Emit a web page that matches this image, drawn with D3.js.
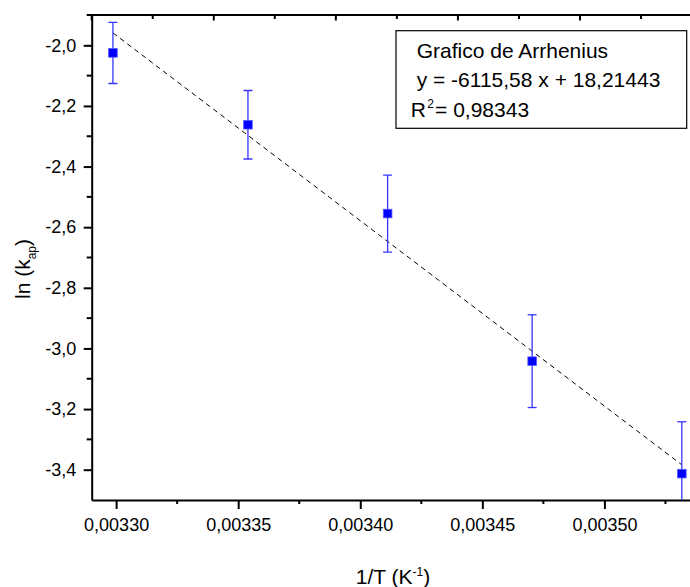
<!DOCTYPE html>
<html>
<head>
<meta charset="utf-8">
<script src="https://cdn.jsdelivr.net/npm/d3@7"></script>
<style>
	body { margin: 0; background: #fff; }
	svg { display: block; font-family: Arial, 'Liberation Sans', sans-serif; }
	.axis path, .axis line { stroke: #000; stroke-width: 2; }
	.axis text { font-size: 18px; fill: #000; font-family: Arial, 'Liberation Sans', sans-serif; }
</style>
</head>
<body>
<svg id="chart" width="690" height="587"></svg>
<script>
// DATA //

const invT = [ 0.0032987, 0.0033540, 0.0034112, 0.0034704, 0.0035317 ];
const lnK = [ -2.025, -2.262, -2.555, -3.042, -3.413 ];
const lnKErr = [ 0.101, 0.113, 0.127, 0.153, 0.171 ];
const fitSlope = -6115.58;
const fitIntercept = 18.21443;
const fitR2 = 0.98343;
const legendTitle = 'Grafico de Arrhenius';
const xTicks = [ 0.00330, 0.00335, 0.00340, 0.00345, 0.00350 ];
const yTicks = [ -3.4, -3.2, -3.0, -2.8, -2.6, -2.4, -2.2, -2.0 ];


// SETUP //

const locale = d3.formatLocale({
	decimal: ',', thousands: '.', grouping: [ 3 ], currency: [ '', '' ], minus: '-'
});
const fmtX = locale.format( '.5f' );
const fmtY = locale.format( '.1f' );

const mLeft = 91.7, mTop = 15, mBottom = 500;

const svg = d3.select( '#chart' );

const x = d3.scaleLinear()
	.domain([ 0.00329, 0.00355 ])
	.range([ mLeft, 726.5 ]);

const y = d3.scaleLinear()
	.domain([ -3.5, -1.9 ])
	.range([ mBottom, mTop ]);

// minor ticks sit halfway between the majors
const xMinor = xTicks.map( v => v + 0.000025 );
const yMinor = yTicks.map( v => v + 0.1 );
const topTicks = d3.range( 0, 11 ).map( i => 0.00329 + i * 0.000025 );


// AXES //

const gx = svg.append( 'g' )
	.attr( 'class', 'axis' )
	.attr( 'transform', 'translate(0,' + mBottom + ')' )
	.call( d3.axisBottom( x )
		.tickValues( xTicks )
		.tickFormat( fmtX )
		.tickSize( 9 )
		.tickSizeOuter( 0 )
		.tickPadding( 9 ) );

gx.selectAll( 'line.minor' )
	.data( xMinor )
	.enter().append( 'line' )
	.attr( 'class', 'minor' )
	.attr( 'x1', d => x( d ) )
	.attr( 'x2', d => x( d ) )
	.attr( 'y2', 4 );

const gy = svg.append( 'g' )
	.attr( 'class', 'axis' )
	.attr( 'transform', 'translate(' + mLeft + ',0)' )
	.call( d3.axisLeft( y )
		.tickValues( yTicks )
		.tickFormat( fmtY )
		.tickSize( 8 )
		.tickSizeOuter( 0 )
		.tickPadding( 7.5 ) );

gy.selectAll( 'line.minor' )
	.data( yMinor )
	.enter().append( 'line' )
	.attr( 'class', 'minor' )
	.attr( 'y1', d => y( d ) )
	.attr( 'y2', d => y( d ) )
	.attr( 'x2', -5 );

// top axis: ticks only, pointing inward
const gt = svg.append( 'g' )
	.attr( 'class', 'axis' );

gt.append( 'line' )
	.attr( 'x1', mLeft - 1 )
	.attr( 'x2', x.range()[ 1 ] )
	.attr( 'y1', mTop )
	.attr( 'y2', mTop );

gt.selectAll( 'line.tick' )
	.data( topTicks )
	.enter().append( 'line' )
	.attr( 'class', 'tick' )
	.attr( 'x1', d => x( d ) )
	.attr( 'x2', d => x( d ) )
	.attr( 'y1', mTop )
	.attr( 'y2', ( d, i ) => mTop + ( i % 2 ? 4 : 5.5 ) );


// PLOT //

svg.append( 'clipPath' )
	.attr( 'id', 'plot-clip' )
	.append( 'rect' )
	.attr( 'x', mLeft )
	.attr( 'y', mTop )
	.attr( 'width', x.range()[ 1 ] - mLeft )
	.attr( 'height', mBottom - mTop );

const plot = svg.append( 'g' )
	.attr( 'clip-path', 'url(#plot-clip)' );

// fitted line between the first and last point
const xFit = d3.extent( invT );
plot.append( 'path' )
	.datum( xFit )
	.attr( 'd', d3.line()
		.x( d => x( d ) )
		.y( d => y( fitSlope * d + fitIntercept ) ) )
	.attr( 'fill', 'none' )
	.attr( 'stroke', '#000' )
	.attr( 'stroke-width', 1 )
	.attr( 'stroke-dasharray', '5,4' );

const pts = invT.map( ( v, i ) => ({ x: v, y: lnK[ i ], e: lnKErr[ i ] }) );

const bars = plot.selectAll( 'g.err' )
	.data( pts )
	.enter().append( 'g' )
	.attr( 'class', 'err' )
	.attr( 'stroke', '#3535ff' )
	.attr( 'stroke-width', 1.3 );

bars.append( 'line' )
	.attr( 'x1', d => x( d.x ) )
	.attr( 'x2', d => x( d.x ) )
	.attr( 'y1', d => y( d.y + d.e ) )
	.attr( 'y2', d => y( d.y - d.e ) );

bars.selectAll( 'line.cap' )
	.data( d => [ [ d.x, d.y + d.e ], [ d.x, d.y - d.e ] ] )
	.enter().append( 'line' )
	.attr( 'class', 'cap' )
	.attr( 'x1', d => x( d[ 0 ] ) - 4.5 )
	.attr( 'x2', d => x( d[ 0 ] ) + 4.5 )
	.attr( 'y1', d => y( d[ 1 ] ) )
	.attr( 'y2', d => y( d[ 1 ] ) );

plot.selectAll( 'rect.pt' )
	.data( pts )
	.enter().append( 'rect' )
	.attr( 'class', 'pt' )
	.attr( 'x', d => x( d.x ) - 4.3 )
	.attr( 'y', d => y( d.y ) - 4.3 )
	.attr( 'width', 8.6 )
	.attr( 'height', 8.6 )
	.attr( 'fill', '#0000ff' )
	.attr( 'stroke', '#5555ff' )
	.attr( 'stroke-width', 0.8 );


// LEGEND //

const legend = svg.append( 'g' )
	.attr( 'font-size', 21 )
	.style( 'white-space', 'pre' );

legend.append( 'rect' )
	.attr( 'x', 396 )
	.attr( 'y', 30.7 )
	.attr( 'width', 290.7 )
	.attr( 'height', 97.6 )
	.attr( 'fill', '#fff' )
	.attr( 'stroke', '#000' )
	.attr( 'stroke-width', 1.2 );

legend.append( 'text' )
	.attr( 'x', 416.7 )
	.attr( 'y', 58.3 )
	.text( legendTitle );

legend.append( 'text' )
	.attr( 'x', 416.7 )
	.attr( 'y', 87.3 )
	.text( ' y = ' + locale.format( '.2f' )( fitSlope ) + ' x + ' + locale.format( '.5f' )( fitIntercept ) );

const r2 = legend.append( 'text' )
	.attr( 'x', 410.7 )
	.attr( 'y', 116.7 );
r2.append( 'tspan' ).text( 'R' );
r2.append( 'tspan' )
	.attr( 'dx', 1.5 )
	.attr( 'dy', -9 )
	.attr( 'font-size', 12 )
	.text( '2' );
r2.append( 'tspan' )
	.attr( 'dx', 1 )
	.attr( 'dy', 9 )
	.text( '= ' + locale.format( '.5f' )( fitR2 ) );


// AXIS TITLES //

const yTitle = svg.append( 'text' )
	.attr( 'transform', 'translate(29.5,269) rotate(-90)' )
	.attr( 'text-anchor', 'middle' )
	.attr( 'font-size', 21 );
yTitle.append( 'tspan' ).text( 'ln (k' );
yTitle.append( 'tspan' )
	.attr( 'dy', 6 )
	.attr( 'font-size', 12 )
	.text( 'ap' );
yTitle.append( 'tspan' )
	.attr( 'dy', -6 )
	.text( ')' );

const xTitle = svg.append( 'text' )
	.attr( 'x', 393 )
	.attr( 'y', 584 )
	.attr( 'text-anchor', 'middle' )
	.attr( 'font-size', 21 );
xTitle.append( 'tspan' ).text( '1/T (K' );
xTitle.append( 'tspan' )
	.attr( 'dy', -8 )
	.attr( 'font-size', 12 )
	.text( '-1' );
xTitle.append( 'tspan' )
	.attr( 'dy', 8 )
	.text( ')' );
</script>
</body>
</html>
